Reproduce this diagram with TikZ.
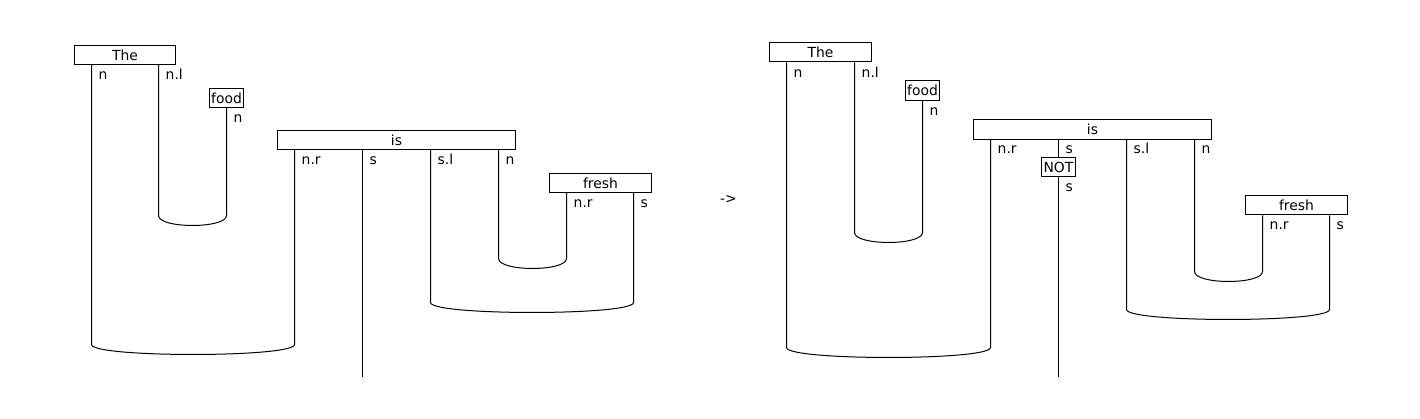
\documentclass[tikz,border=0pt]{standalone}
\usepackage{fontspec}
\setmainfont{DejaVu Sans}
\newcommand\mycup[5]{\draw[wire] (#1.south -| #2,0) -- (#2,#4) .. controls (#2,{#4+13.3}) and (#3,{#4+13.3}) .. (#3,#4) -- (#5.south -| #3,0);}
\begin{document}
\begin{tikzpicture}[x=1pt,y=-1pt,
  font=\fontsize{13.9}{16}\selectfont,
  box/.style={draw, line width=1pt, fill=white, minimum height=19.5pt, inner sep=1pt},
  wire/.style={line width=1pt},
  lbl/.style={anchor=base west, inner sep=0pt}]
\useasboundingbox (-0.5,-0.5) rectangle (1419.5,418.5);
% ---------- left diagram ----------
\node[box, minimum width=101pt] (Lthe) at (124.5,54.5) {The};
\node[box, minimum width=34pt] (Lfood) at (226,97.5) {food};
\node[box, minimum width=238pt] (Lis) at (396,139.5) {is};
\node[box, minimum width=102pt] (Lfresh) at (600,182.5) {fresh};
\coordinate (Lend) at (362,376);
\mycup{Lthe}{91}{294}{344}{Lis}
\mycup{Lthe}{158}{226}{215}{Lfood}
\mycup{Lis}{498}{566}{258}{Lfresh}
\mycup{Lis}{430}{633}{302}{Lfresh}
\draw[wire] (Lis.south -| Lend) -- (Lend);
\node[lbl] (la1) at (98,79.5) {n};
\node[lbl] (la2) at (165,79.5) {n.l};
\node[lbl] (la3) at (233,122.5) {n};
\node[lbl] (la4) at (301,164.5) {n.r};
\node[lbl] (la5) at (369,164.5) {s};
\node[lbl] (la6) at (437,164.5) {s.l};
\node[lbl] (la7) at (505,164.5) {n};
\node[lbl] (la8) at (573,207.5) {n.r};
\node[lbl] (la9) at (640,207.5) {s};
% ---------- arrow text ----------
\node (arr) at (728,199) {->};
% ---------- right diagram ----------
\node[box, minimum width=102pt] (Rthe) at (820,51.7) {The};
\node[box, minimum width=34pt] (Rfood) at (922,90) {food};
\node[box, minimum width=238pt] (Ris) at (1092,128.8) {is};
\node[box, minimum width=34pt] (Rnot) at (1058,166.7) {NOT};
\node[box, minimum width=102pt] (Rfresh) at (1296,204.7) {fresh};
\coordinate (Rend) at (1058,376);
\mycup{Rthe}{786}{990}{347}{Ris}
\mycup{Rthe}{854}{922}{232}{Rfood}
\mycup{Ris}{1194}{1262}{271}{Rfresh}
\mycup{Ris}{1126}{1329}{309}{Rfresh}
\draw[wire] (Ris.south -| Rnot) -- (Rnot.north);
\draw[wire] (Rnot.south) -- (Rend);
\node[lbl] (ra1) at (793,76.7) {n};
\node[lbl] (ra2) at (861,76.7) {n.l};
\node[lbl] (ra3) at (929,114.8) {n};
\node[lbl] (ra4) at (997,153.5) {n.r};
\node[lbl] (ra5) at (1065,153.5) {s};
\node[lbl] (ra6) at (1133,153.5) {s.l};
\node[lbl] (ra7) at (1201,153.5) {n};
\node[lbl] (ra8) at (1065,191.5) {s};
\node[lbl] (ra9) at (1269,229.5) {n.r};
\node[lbl] (ra10) at (1336,229.5) {s};
\end{tikzpicture}
\end{document}
